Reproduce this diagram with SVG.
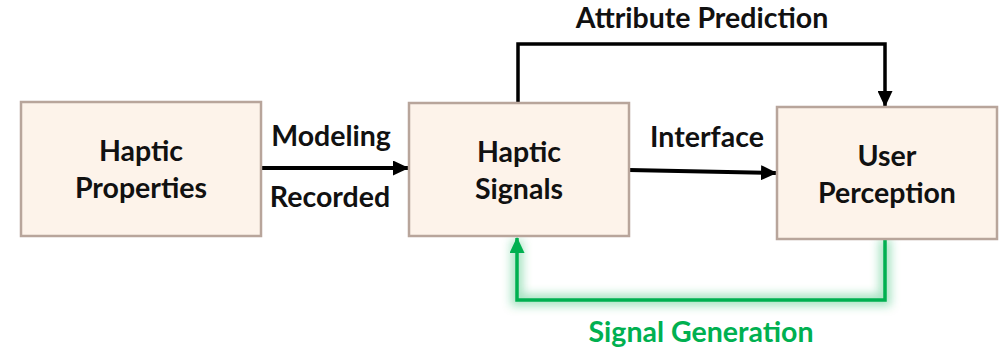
<svg xmlns="http://www.w3.org/2000/svg" width="1000" height="351" viewBox="0 0 1000 351">
<style>
.box{fill:#FDF3EA;stroke:#B8A59B;stroke-width:2.5}
.t{font-family:Lato,"Liberation Sans",sans-serif;font-weight:bold;font-size:28.5px;fill:#111;text-anchor:middle}
.g{fill:#00B050}
.c{fill:none;stroke:#000;stroke-width:3.5}
.cg{fill:none;stroke:#00B050;stroke-width:3.5}
</style>
<defs>
<marker id="ah" markerWidth="16" markerHeight="15" refX="15" refY="7.5" orient="auto" markerUnits="userSpaceOnUse" viewBox="0 0 16 15">
<path d="M0,0 L16,7.5 L0,15 z" fill="#000"/>
</marker>
<marker id="ahg" markerWidth="16" markerHeight="15" refX="15" refY="7.5" orient="auto" markerUnits="userSpaceOnUse" viewBox="0 0 16 15">
<path d="M0,0 L16,7.5 L0,15 z" fill="#00B050"/>
</marker>
<filter id="glow" x="-20%" y="-50%" width="140%" height="200%">
<feGaussianBlur stdDeviation="5"/>
</filter>
</defs>
<g id="connectors">
<path class="c" d="M261,168 L408,168" marker-end="url(#ah)" style="stroke-width:4"/>
<path class="c" d="M629,170 L776,173" marker-end="url(#ah)" style="stroke-width:4"/>
<path class="c" d="M518,103 L518,44 L885,44 L885,106" marker-end="url(#ah)"/>
<path d="M885,239 L885,300 L517,300 L517,240" fill="none" stroke="#00B050" stroke-opacity="0.35" stroke-width="12" filter="url(#glow)"/>
<path class="cg" d="M885,239 L885,300 L517,300 L517,238" marker-end="url(#ahg)"/>
<text class="t" x="331" y="146">Modeling</text>
<text class="t" x="330" y="207">Recorded</text>
<text class="t" x="707" y="147">Interface</text>
<text class="t" x="702" y="28">Attribute Prediction</text>
<text class="t g" x="701" y="342">Signal Generation</text>
</g>
<g id="haptic-properties">
<rect class="box" x="21" y="102" width="240" height="134"/>
<text class="t" x="141" y="161">Haptic</text>
<text class="t" x="141" y="198">Properties</text>
</g>
<g id="haptic-signals">
<rect class="box" x="409" y="103" width="220" height="133"/>
<text class="t" x="519" y="162">Haptic</text>
<text class="t" x="519" y="199">Signals</text>
</g>
<g id="user-perception">
<rect class="box" x="777" y="107" width="220" height="132"/>
<text class="t" x="887" y="166">User</text>
<text class="t" x="887" y="203">Perception</text>
</g>
</svg>
